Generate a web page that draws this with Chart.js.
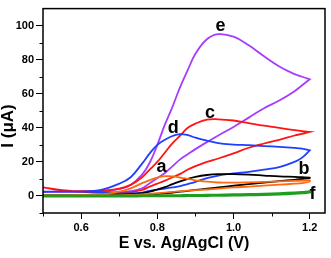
<!DOCTYPE html>
<html>
<head>
<meta charset="utf-8">
<script src="https://cdn.jsdelivr.net/npm/chart.js@4.4.0/dist/chart.umd.min.js"></script>
<style>
  html, body { margin: 0; padding: 0; background: #fff; }
  canvas { display: block; }
</style>
</head>
<body>
<canvas id="cvChart" width="331" height="258"></canvas>
<script>
// potential grid (V), both sweeps read at these points
const potentials = [0.50, 0.55, 0.60, 0.65, 0.70, 0.73, 0.76, 0.78, 0.80, 0.82, 0.84, 0.86, 0.88, 0.90, 0.93, 0.96, 1.00, 1.04, 1.08, 1.12, 1.16, 1.18, 1.20];

// currents (µA): forward = upper branch, reverse = lower branch (listed low -> high potential)
const aForward = [0.5, 0.5, 0.6, 0.9, 2.5, 4.5, 7.5, 9.3, 10.8, 11.6, 11.5, 10.8, 10.0, 9.2, 8.4, 7.9, 7.8, 8.0, 8.3, 8.6, 8.9, 9.0, 9.2];
const aReverse = [0.3, 0.3, 0.3, 0.3, 0.4, 0.6, 0.9, 1.2, 1.6, 2.0, 2.4, 2.8, 3.1, 3.4, 3.8, 4.3, 5.0, 5.5, 6.1, 6.6, 7.2, 7.6, 8.5];
const bForward = [0.5, 0.5, 0.5, 0.6, 0.8, 1.0, 1.6, 2.5, 3.8, 5.2, 7.0, 8.6, 10.0, 11.2, 12.3, 12.8, 12.8, 12.5, 12.0, 11.5, 11.2, 11.0, 10.8];
const bReverse = [0.3, 0.3, 0.3, 0.3, 0.4, 0.5, 0.6, 0.8, 1.1, 1.5, 2.0, 2.5, 3.0, 3.5, 4.3, 5.0, 6.0, 6.9, 7.8, 8.7, 9.5, 10.0, 10.5];
const cForward = [5.1, 3.3, 2.8, 3.0, 4.3, 6.5, 11, 15.5, 20, 25.5, 31, 35.5, 40, 42.5, 44.8, 45, 44.3, 42.8, 41.3, 40, 38.6, 38, 37.6];
const cReverse = [5.0, 3.4, 2.5, 1.8, 1.6, 2.2, 3.5, 5.5, 7.2, 9, 11, 13, 15.5, 17.5, 20, 22, 25, 28.3, 30.8, 33, 35.5, 36.5, 37.6];
const dForward = [2.5, 2.6, 2.6, 3.4, 7.2, 11, 19, 25, 30, 33, 35.2, 36.3, 35.7, 34.2, 32.5, 31, 30.2, 29.8, 29.3, 28.8, 28.2, 27.8, 26.8];
const dReverse = [2.5, 2.5, 2.5, 2.2, 1.6, 1.5, 2.0, 3.0, 3.7, 4.3, 5.0, 5.8, 7.0, 8.3, 10.5, 12.0, 13.2, 14.2, 15.5, 17, 20, 22.5, 26.8];
const eForward = [2.3, 2.5, 2.5, 2.8, 4.0, 6.5, 12.5, 19.5, 30, 42, 52.5, 64, 74, 83.5, 92, 95, 93.5, 88.5, 82, 76, 71.5, 70, 68.5];
const eReverse = [2.3, 2.4, 2.4, 2.3, 2.3, 2.8, 4.5, 7.5, 10.5, 13.5, 17.5, 21.5, 24.5, 27.5, 31.6, 35.5, 40.5, 46, 51.5, 56, 61.5, 65, 68.5];
const fForward = [0, 0, 0, 0, 0, 0.05, 0.05, 0.1, 0.1, 0.15, 0.2, 0.25, 0.3, 0.35, 0.45, 0.55, 0.7, 0.9, 1.1, 1.4, 1.8, 2.1, 2.5];
const fReverse = [-0.1, -0.1, -0.1, -0.1, -0.1, -0.05, 0, 0, 0.05, 0.05, 0.1, 0.1, 0.15, 0.2, 0.25, 0.35, 0.45, 0.6, 0.8, 1.1, 1.5, 1.8, 2.2];

const curveNames = ["a", "b", "c", "d", "e", "f"];
const xMajorTicks = [0.6, 0.8, 1.0, 1.2];
const xMinorTicks = [0.5, 0.7, 0.9, 1.1];
const yMajorTicks = [0, 20, 40, 60, 80, 100];
const yMinorTicks = [-10, 10, 30, 50, 70, 90];

const FONT = "Arial, 'Liberation Sans', sans-serif";

// forward sweep then back down along the reverse branch -> closed loop
const toLoop = (fwd, rev) => {
    const up = potentials.map((x, i) => ({ x, y: fwd[i] }));
    const down = potentials.map((x, i) => ({ x, y: rev[i] })).reverse();
    return up.concat(down);
};

const makeSet = (label, fwd, rev, color, width) => ({
    label,
    data: toLoop(fwd, rev),
    showLine: true,
    borderColor: color,
    borderWidth: width,
    pointRadius: 0,
    tension: 0.4,
    fill: false,
});

// first dataset is drawn on top
const datasets = [
    makeSet("f", fForward, fReverse, "#1e9e1e", 2.8),
    makeSet("a", aForward, aReverse, "#ff6a10", 1.8),
    makeSet("b", bForward, bReverse, "#000000", 1.8),
    makeSet("d", dForward, dReverse, "#1f3fff", 1.8),
    makeSet("c", cForward, cReverse, "#ff1414", 1.8),
    makeSet("e", eForward, eReverse, "#a63cff", 1.8),
];

// box, minor ticks, curve letters, y title
const decorations = {
    id: "decorations",
    afterDraw(chart) {
        const { ctx, chartArea: a, scales: { x, y } } = chart;
        ctx.save();
        ctx.strokeStyle = "#000";
        ctx.lineWidth = 1;
        xMinorTicks.forEach((v) => {
            const px = Math.round(x.getPixelForValue(v)) + 0.5;
            ctx.beginPath();
            ctx.moveTo(px, a.bottom);
            ctx.lineTo(px, a.bottom + 3.5);
            ctx.stroke();
        });
        yMinorTicks.forEach((v) => {
            const py = Math.round(y.getPixelForValue(v)) + 0.5;
            ctx.beginPath();
            ctx.moveTo(a.left - 3.5, py);
            ctx.lineTo(a.left, py);
            ctx.stroke();
        });

        ctx.lineWidth = 1.5;
        ctx.strokeRect(a.left, a.top, a.right - a.left, a.bottom - a.top);

        // letters next to each voltammogram
        const anchors = { a: [0.811, 13.8], b: [1.185, 12.9], c: [0.938, 45.9], d: [0.842, 36.9], e: [0.966, 97], f: [1.2075, -1.6] };
        ctx.fillStyle = "#000";
        ctx.font = "bold 18px " + FONT;
        ctx.textAlign = "center";
        ctx.textBaseline = "alphabetic";
        curveNames.forEach((n) => {
            const [vx, vy] = anchors[n];
            ctx.fillText(n, x.getPixelForValue(vx), y.getPixelForValue(vy));
        });

        // y axis title
        ctx.translate(8, 126);
        ctx.rotate(-Math.PI / 2);
        ctx.font = "bold 17px " + FONT;
        ctx.textBaseline = "middle";
        ctx.fillText("I (\u03bcA)", 0, 0);
        ctx.restore();
    },
};

new Chart(document.getElementById("cvChart"), {
    type: "scatter",
    data: { datasets },
    options: {
        responsive: false,
        animation: false,
        devicePixelRatio: 1,
        layout: { padding: { top: 2, right: 6, left: 0, bottom: 0 } },
        plugins: { legend: { display: false }, tooltip: { enabled: false } },
        scales: {
            x: {
                type: "linear",
                min: 0.5,
                max: 1.24,
                afterBuildTicks: (s) => { s.ticks = xMajorTicks.map((v) => ({ value: v })); },
                afterFit: (s) => { s.height = 45; },
                border: { display: false },
                grid: { drawOnChartArea: false, drawTicks: true, tickLength: 6, tickColor: "#000", tickWidth: 1 },
                ticks: {
                    color: "#000",
                    padding: 2,
                    maxRotation: 0,
                    font: { family: FONT, size: 11, weight: "bold" },
                    callback: (v) => Number(v).toFixed(1),
                },
                title: {
                    display: true,
                    text: "E vs. Ag/AgCl (V)",
                    color: "#000",
                    padding: { top: 0, bottom: 5 },
                    font: { family: FONT, size: 16, weight: "bold" },
                },
            },
            y: {
                type: "linear",
                min: -10,
                max: 110,
                afterBuildTicks: (s) => { s.ticks = yMajorTicks.map((v) => ({ value: v })); },
                afterFit: (s) => { s.width = 43; },
                border: { display: false },
                grid: { drawOnChartArea: false, drawTicks: true, tickLength: 7, tickColor: "#000", tickWidth: 1 },
                ticks: {
                    color: "#000",
                    padding: 2,
                    font: { family: FONT, size: 11, weight: "bold" },
                    callback: (v) => String(v),
                },
            },
        },
    },
    plugins: [decorations],
});
</script>
</body>
</html>
